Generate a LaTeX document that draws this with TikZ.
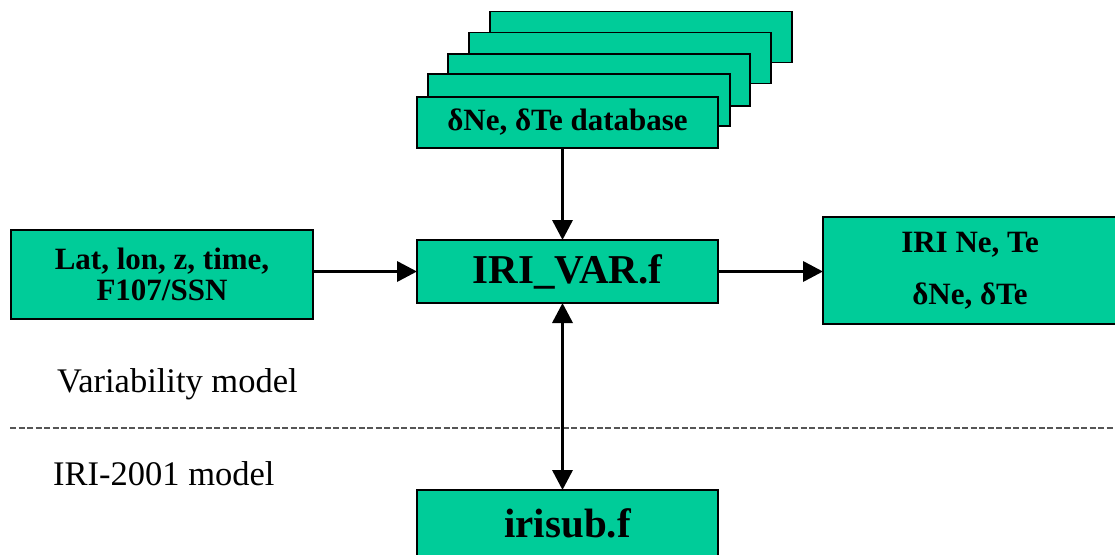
\documentclass[tikz,border=0pt]{standalone}
\usepackage{fontspec}
\setmainfont{Liberation Serif}
\usetikzlibrary{arrows.meta}
\definecolor{boxgreen}{RGB}{0,204,153}
\definecolor{dashgray}{RGB}{85,85,85}
\begin{document}
\begin{tikzpicture}[x=1pt,y=-1pt,
  box/.style={draw=black, line width=1.5pt, fill=boxgreen, inner sep=0pt, outer sep=0pt,
    font=\bfseries\fontsize{31}{31}\selectfont, align=center},
  bigbox/.style={box, font=\bfseries\fontsize{41}{44}\selectfont},
  conn/.style={line width=3.5pt, -{Triangle[length=20pt,width=20pt]}},
  biconn/.style={line width=3.5pt, {Triangle[length=20pt,width=20pt]}-{Triangle[length=20pt,width=20pt]}},
  lbl/.style={inner sep=0pt, anchor=base west, font=\fontsize{34.5}{40}\selectfont},
  sepline/.style={draw=dashgray, line width=1.5pt, dash pattern=on 6pt off 2.5pt}]
\useasboundingbox (0,0) rectangle (1115,554);
% stacked database sheets (back to front)
\node[box, minimum width=302pt, minimum height=51pt] (db5) at (641,37.2) {};
\node[box, minimum width=302pt, minimum height=51pt] (db4) at (620,57.8) {};
\node[box, minimum width=302pt, minimum height=52pt] (db3) at (599,80) {};
\node[box, minimum width=302pt, minimum height=52pt] (db2) at (579,100) {};
\node[box, minimum width=301pt, minimum height=51pt] (db) at (567.5,122.3) {δNe, δTe database};
% main boxes
\node[box, minimum width=302pt, minimum height=89pt] (inp) at (162,274.5) {Lat, lon, z, time,\\F107/SSN};
\node[bigbox, minimum width=301pt, minimum height=63pt] (var) at (567.5,271.5) {IRI\_VAR.f};
\node[box, font=\bfseries\fontsize{31}{52}\selectfont, minimum width=294pt, minimum height=107pt] (out) at (970,270.5) {IRI Ne, Te\\δNe, δTe};
\node[bigbox, minimum width=301pt, minimum height=66pt] (sub) at (567.5,523) {irisub.f};
% labels
\node[lbl] (vm) at (57,392) {Variability model};
\node[lbl] (im) at (53,485) {IRI-2001 model};
% separator
\coordinate (sl) at (10,428);
\coordinate (sr) at (1115,428);
\draw[sepline] (sl) -- (sr);
% connectors
\draw[conn] ([xshift=-5pt]db.south) -- ([xshift=-5pt]var.north);
\draw[conn] (inp.east |- var.west) -- (var.west);
\draw[conn] (var.east) -- (var.east -| out.west);
\draw[biconn] ([xshift=-5pt]var.south) -- ([xshift=-5pt]sub.north);
\end{tikzpicture}
\end{document}
